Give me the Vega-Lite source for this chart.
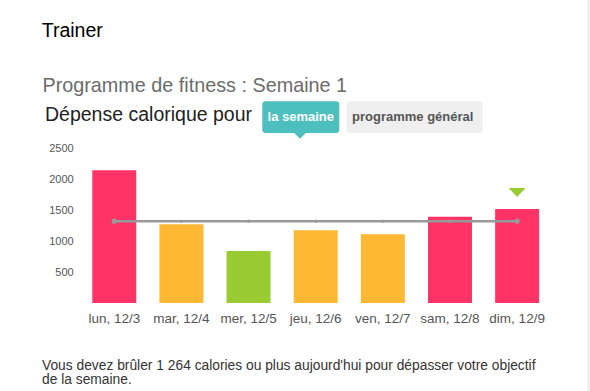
{
  "$schema": "https://vega.github.io/schema/vega-lite/v6.json",
  "width": 470,
  "height": 155,
  "autosize": {"type": "none"},
  "padding": {"left": 80.7, "top": 148, "right": 39.3, "bottom": 88},
  "background": "#ffffff",
  "config": {
    "view": {"stroke": null},
    "font": "Liberation Sans",
    "text": {"font": "Liberation Sans"},
    "axisY": {"labelOverlap": false}
  },
  "datasets": {
    "semaine": [
      {"jour": "lun, 12/3", "calories": 2140, "objectif": 1320, "niveau": "dépassé", "aujourdhui": false},
      {"jour": "mar, 12/4", "calories": 1270, "objectif": 1320, "niveau": "proche", "aujourdhui": false},
      {"jour": "mer, 12/5", "calories": 840, "objectif": 1320, "niveau": "faible", "aujourdhui": false},
      {"jour": "jeu, 12/6", "calories": 1172, "objectif": 1320, "niveau": "proche", "aujourdhui": false},
      {"jour": "ven, 12/7", "calories": 1108, "objectif": 1320, "niveau": "proche", "aujourdhui": false},
      {"jour": "sam, 12/8", "calories": 1392, "objectif": 1320, "niveau": "dépassé", "aujourdhui": false},
      {"jour": "dim, 12/9", "calories": 1516, "objectif": 1320, "niveau": "dépassé", "aujourdhui": true}
    ]
  },
  "layer": [
    {
      "data": {"name": "semaine"},
      "mark": {"type": "bar"},
      "encoding": {
        "x": {
          "field": "jour",
          "type": "nominal",
          "sort": null,
          "scale": {"paddingInner": 0.345, "paddingOuter": 0.1725},
          "axis": {
            "title": null,
            "domain": false,
            "ticks": false,
            "tickSize": 0,
            "labelAngle": 0,
            "labelFont": "Liberation Sans",
            "labelFontSize": 13.5,
            "labelColor": "#555555",
            "labelBaseline": "alphabetic",
            "labelPadding": 19.5,
            "labelOverlap": false
          }
        },
        "y": {
          "field": "calories",
          "type": "quantitative",
          "scale": {"domain": [0, 2500], "nice": false},
          "axis": {
            "title": null,
            "domain": false,
            "ticks": false,
            "tickSize": 0,
            "grid": false,
            "values": [500, 1000, 1500, 2000, 2500],
            "tickCount": 10,
            "format": "d",
            "labelOverlap": false,
            "labelFont": "Liberation Sans",
            "labelFontSize": 11,
            "labelColor": "#555555",
            "labelPadding": 7.5
          }
        },
        "color": {
          "field": "niveau",
          "type": "nominal",
          "scale": {"domain": ["dépassé", "proche", "faible"], "range": ["#ff3366", "#ffb833", "#99cc33"]},
          "legend": null
        }
      }
    },
    {
      "data": {"name": "semaine"},
      "mark": {"type": "line", "color": "#999999", "strokeWidth": 2.5},
      "encoding": {
        "x": {"field": "jour", "type": "nominal", "sort": null},
        "y": {"field": "objectif", "type": "quantitative"}
      }
    },
    {
      "data": {"name": "semaine"},
      "mark": {"type": "point", "filled": true, "color": "#999999", "opacity": 1},
      "encoding": {
        "x": {"field": "jour", "type": "nominal", "sort": null},
        "y": {"field": "objectif", "type": "quantitative"},
        "size": {
          "condition": {"test": "datum.jour === 'lun, 12/3' || datum.jour === 'dim, 12/9'", "value": 26},
          "value": 10
        }
      }
    },
    {
      "data": {"name": "semaine"},
      "transform": [{"filter": "datum.aujourdhui"}],
      "mark": {
        "type": "point",
        "filled": true,
        "color": "#99cc33",
        "opacity": 1,
        "shape": "M-1,-0.53L1,-0.53L0,0.53Z",
        "size": 289,
        "yOffset": -16.5
      },
      "encoding": {
        "x": {"field": "jour", "type": "nominal", "sort": null},
        "y": {"field": "calories", "type": "quantitative"}
      }
    },
    {
      "data": {"values": [{"t": "Trainer"}]},
      "mark": {"type": "text", "align": "left", "baseline": "alphabetic", "fontSize": 19.5, "color": "#000000", "x": -39, "y": -111.3},
      "encoding": {"text": {"field": "t"}}
    },
    {
      "data": {"values": [{"t": "Programme de fitness : Semaine 1"}]},
      "mark": {"type": "text", "align": "left", "baseline": "alphabetic", "fontSize": 19.8, "color": "#6b6b6b", "x": -38.2, "y": -56.5},
      "encoding": {"text": {"field": "t"}}
    },
    {
      "data": {"values": [{"t": "Dépense calorique pour"}]},
      "mark": {"type": "text", "align": "left", "baseline": "alphabetic", "fontSize": 19.5, "color": "#222222", "x": -35.7, "y": -27.3},
      "encoding": {"text": {"field": "t"}}
    },
    {
      "data": {"values": [{"t": "la semaine"}]},
      "mark": {"type": "rect", "color": "#4cbfbe", "cornerRadius": 3, "x": 181.6, "x2": 258.6, "y": -46.7, "y2": -15},
      "encoding": {}
    },
    {
      "data": {"values": [{"t": "la semaine"}]},
      "mark": {"type": "point", "filled": true, "opacity": 1, "color": "#4cbfbe", "shape": "M-1,-0.5L1,-0.5L0,0.5Z", "size": 144, "x": 219.3, "y": -12.2},
      "encoding": {}
    },
    {
      "data": {"values": [{"t": "programme général"}]},
      "mark": {"type": "rect", "color": "#efefef", "cornerRadius": 3, "x": 266, "x2": 402, "y": -46.7, "y2": -15},
      "encoding": {}
    },
    {
      "data": {"values": [{"t": "la semaine"}]},
      "mark": {"type": "text", "align": "center", "baseline": "alphabetic", "fontSize": 13, "fontWeight": "bold", "color": "#ffffff", "x": 220.1, "y": -27.3},
      "encoding": {"text": {"field": "t"}}
    },
    {
      "data": {"values": [{"t": "programme général"}]},
      "mark": {"type": "text", "align": "center", "baseline": "alphabetic", "fontSize": 13, "fontWeight": "bold", "color": "#555555", "x": 332, "y": -27.3},
      "encoding": {"text": {"field": "t"}}
    },
    {
      "data": {"values": [{"t": ["Vous devez brûler 1 264 calories ou plus aujourd'hui pour dépasser votre objectif", "de la semaine."]}]},
      "mark": {"type": "text", "align": "left", "baseline": "alphabetic", "fontSize": 13.8, "lineHeight": 14, "color": "#333333", "x": -38.7, "y": 222},
      "encoding": {"text": {"field": "t"}}
    },
    {
      "data": {"values": [{"t": "bord"}]},
      "mark": {"type": "rect", "color": "#efefef", "x": 506.6, "x2": 509.3, "y": -148, "y2": 243},
      "encoding": {}
    }
  ]
}
